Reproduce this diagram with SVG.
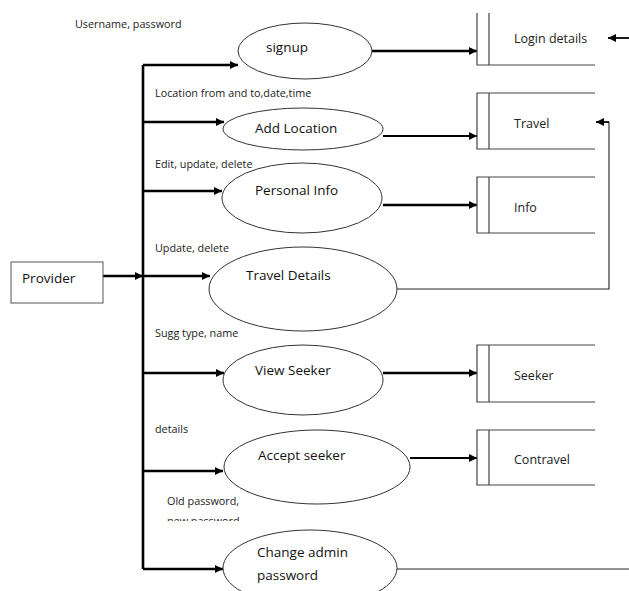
<svg xmlns="http://www.w3.org/2000/svg" width="629" height="591" viewBox="0 0 629 591">
<defs>
<marker id="ah" viewBox="0 0 10 10" refX="10" refY="5" markerWidth="10" markerHeight="8" markerUnits="userSpaceOnUse" orient="auto"><path d="M0,0 L10,5 L0,10 z" fill="#000"/></marker>
<clipPath id="clipNew"><rect x="150" y="508" width="120" height="13"/></clipPath>
</defs>
<style>
.bg{fill:#fff}
.proc{fill:#fff;stroke:#333;stroke-width:1}
.store{fill:none;stroke:#444;stroke-width:1.2}
.thick{fill:none;stroke:#000;stroke-width:2.6}
.med{fill:none;stroke:#000;stroke-width:1.8}
.thin{fill:none;stroke:#222;stroke-width:1.1}
.lbl{font-family:"Open Sans","Liberation Sans",sans-serif;font-size:10.8px;fill:#222}
.ptxt{font-family:"Open Sans","Liberation Sans",sans-serif;font-size:13.5px;fill:#111}
.stxt{font-family:"Open Sans","Liberation Sans",sans-serif;font-size:12.5px;fill:#222}
</style>
<rect class="bg" x="0" y="0" width="629" height="591"/>

<g id="connectors">
<path class="thick" d="M143,569 V65"/>
<path class="thick" d="M103,276 H143" marker-end="url(#ah)"/>
<path class="thick" d="M143,65 H238" marker-end="url(#ah)"/>
<path class="thick" d="M143,122 H224" marker-end="url(#ah)"/>
<path class="thick" d="M143,191 H222" marker-end="url(#ah)"/>
<path class="thick" d="M143,276 H210" marker-end="url(#ah)"/>
<path class="thick" d="M143,373 H224" marker-end="url(#ah)"/>
<path class="thick" d="M143,471 H223" marker-end="url(#ah)"/>
<path class="thick" d="M143,569 H223" marker-end="url(#ah)"/>
<path class="thick" d="M372,51 H477" marker-end="url(#ah)"/>
<path class="med" d="M383,136 H477" marker-end="url(#ah)"/>
<path class="thick" d="M383,205 H477" marker-end="url(#ah)"/>
<path class="thick" d="M383,373 H477" marker-end="url(#ah)"/>
<path class="med" d="M410,458 H477" marker-end="url(#ah)"/>
<path class="med" d="M629,38 H608" marker-end="url(#ah)"/>
<path class="thin" d="M397,289 H609 V122"/>
<path class="med" d="M609,122 H596" marker-end="url(#ah)"/>
<path class="thin" d="M397,569 H629"/>
</g>

<g id="labels">
<text class="lbl" x="75" y="28">Username, password</text>
<text class="lbl" x="155" y="97">Location from and to,date,time</text>
<text class="lbl" x="155" y="168">Edit, update, delete</text>
<text class="lbl" x="155" y="252">Update, delete</text>
<text class="lbl" x="155" y="337">Sugg type, name</text>
<text class="lbl" x="155" y="433">details</text>
<text class="lbl" x="167" y="505">Old password,</text>
<text class="lbl" x="167" y="525" clip-path="url(#clipNew)">new password</text>
</g>

<g id="provider">
<rect x="11" y="262" width="92" height="41" fill="#fff" stroke="#555" stroke-width="1"/>
<text class="ptxt" x="22" y="283" font-size="15">Provider</text>
</g>

<g id="signup">
<ellipse class="proc" cx="305" cy="51" rx="67" ry="28"/>
<text class="ptxt" x="266" y="52">signup</text>
</g>
<g id="add-location">
<ellipse class="proc" cx="303" cy="129" rx="80" ry="21"/>
<text class="ptxt" x="255" y="133">Add Location</text>
</g>
<g id="personal-info">
<ellipse class="proc" cx="302" cy="198" rx="80" ry="35"/>
<text class="ptxt" x="255" y="195">Personal Info</text>
</g>
<g id="travel-details">
<ellipse class="proc" cx="303" cy="289" rx="94" ry="42"/>
<text class="ptxt" x="246" y="280">Travel Details</text>
</g>
<g id="view-seeker">
<ellipse class="proc" cx="303" cy="380" rx="80" ry="35"/>
<text class="ptxt" x="255" y="375">View Seeker</text>
</g>
<g id="accept-seeker">
<ellipse class="proc" cx="317" cy="467" rx="93" ry="37"/>
<text class="ptxt" x="258" y="460">Accept seeker</text>
</g>
<g id="change-admin-password">
<ellipse class="proc" cx="310" cy="568" rx="87" ry="38"/>
<text class="ptxt" x="257" y="557">Change admin</text>
<text class="ptxt" x="257" y="580">password</text>
</g>

<g id="store-login">
<path class="store" d="M477,13 V65 H595 M489,13 V65"/>
<text class="stxt" x="514" y="43">Login details</text>
</g>
<g id="store-travel">
<path class="store" d="M595,93 H477 V149 H595 M489,93 V149"/>
<text class="stxt" x="514" y="128">Travel</text>
</g>
<g id="store-info">
<path class="store" d="M595,177 H477 V233 H595 M489,177 V233"/>
<text class="stxt" x="514" y="212">Info</text>
</g>
<g id="store-seeker">
<path class="store" d="M595,345 H477 V402 H595 M489,345 V402"/>
<text class="stxt" x="514" y="380">Seeker</text>
</g>
<g id="store-contravel">
<path class="store" d="M595,430 H477 V485 H595 M489,430 V485"/>
<text class="stxt" x="514" y="464">Contravel</text>
</g>
</svg>
